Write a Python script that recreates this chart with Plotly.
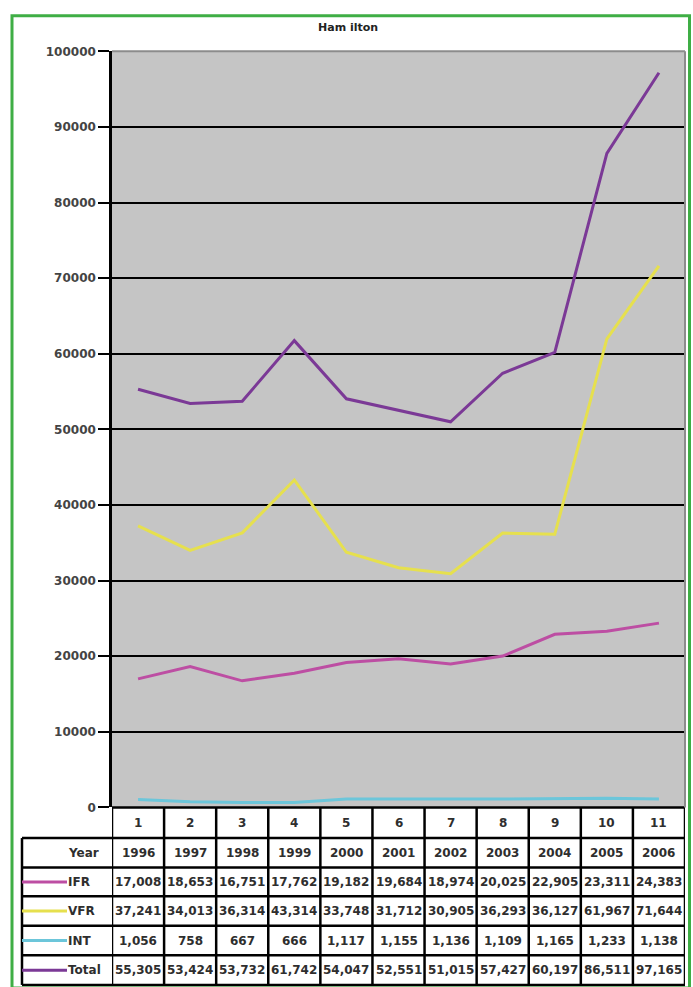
import plotly.graph_objects as go

W, H = 693, 987

categories = list(range(1, 12))
years = [1996, 1997, 1998, 1999, 2000, 2001, 2002, 2003, 2004, 2005, 2006]
ifr = [17008, 18653, 16751, 17762, 19182, 19684, 18974, 20025, 22905, 23311, 24383]
vfr = [37241, 34013, 36314, 43314, 33748, 31712, 30905, 36293, 36127, 61967, 71644]
int_ = [1056, 758, 667, 666, 1117, 1155, 1136, 1109, 1165, 1233, 1138]
total = [55305, 53424, 53732, 61742, 54047, 52551, 51015, 57427, 60197, 86511, 97165]
y_ticks = list(range(0, 100001, 10000))

series = [
    ("IFR", ifr, "#bd4ea3"),
    ("VFR", vfr, "#e6e04e"),
    ("INT", int_, "#6cc6da"),
    ("Total", total, "#7b3996"),
]

def px(x):
    return x / W

def py(y):
    return 1 - y / H

PLOT_L, PLOT_R, PLOT_T, PLOT_B = 112, 685, 45, 812
TABLE_L = 22
row_edges = [812, 843, 873, 902, 932, 962, 992]

fig = go.Figure()
for name, vals, col in series:
    fig.add_trace(go.Scatter(x=categories, y=vals, mode="lines", name=name,
                             line=dict(color=col, width=3), showlegend=False))

shapes = []
annos = []
LINE = dict(color="black", width=2.5)

for i, yy in enumerate(row_edges):
    x0 = PLOT_L if i == 0 else TABLE_L
    shapes.append(dict(type="line", xref="paper", yref="paper",
                       x0=px(x0), x1=px(PLOT_R), y0=py(yy), y1=py(yy), line=LINE))
for k in range(12):
    shapes.append(dict(type="line", xref="x", yref="paper",
                       x0=k + 0.5, x1=k + 0.5, y0=py(row_edges[0]), y1=py(row_edges[-1]),
                       line=LINE))
shapes.append(dict(type="line", xref="paper", yref="paper",
                   x0=px(TABLE_L), x1=px(TABLE_L), y0=py(row_edges[1]), y1=py(row_edges[-1]),
                   line=LINE))

TFONT = dict(family="DejaVu Sans", size=12, color="#2e2e2e")

def row_center(r):
    return py((row_edges[r] + row_edges[r + 1]) / 2)

for c in categories:
    annos.append(dict(x=c, y=row_center(0), xref="x", yref="paper", text=f"<b>{c}</b>",
                      showarrow=False, font=TFONT, xanchor="center", yanchor="middle"))

rows = [("Year", [str(y) for y in years], None)]
for name, vals, col in series:
    rows.append((name, [f"{v:,}" for v in vals], col))

for r, (label, texts, col) in enumerate(rows, start=1):
    annos.append(dict(x=px(66), y=row_center(r), xref="paper", yref="paper",
                      text=f"<b>{label}</b>", showarrow=False, font=TFONT,
                      xanchor="left", yanchor="middle"))
    if col:
        yc = row_center(r)
        shapes.append(dict(type="line", xref="paper", yref="paper",
                           x0=px(TABLE_L), x1=px(67), y0=yc, y1=yc,
                           line=dict(color=col, width=3)))
    for c, t in zip(categories, texts):
        annos.append(dict(x=c, y=row_center(r), xref="x", yref="paper", text=f"<b>{t}</b>",
                          showarrow=False, font=TFONT, xanchor="center", yanchor="middle"))

annos.append(dict(x=px(348), y=py(21), xref="paper", yref="paper", text="<b>Ham ilton</b>",
                  showarrow=False, font=dict(family="DejaVu Sans", size=11, color="#222"),
                  xanchor="center", yanchor="middle"))

shapes.append(dict(type="line", xref="paper", yref="paper", x0=px(PLOT_L), x1=px(PLOT_R),
                   y0=py(PLOT_T), y1=py(PLOT_T), line=dict(color="#8c8c8c", width=2)))
shapes.append(dict(type="line", xref="paper", yref="paper", x0=px(PLOT_R), x1=px(PLOT_R),
                   y0=py(PLOT_T), y1=py(PLOT_B), line=dict(color="#8c8c8c", width=2)))

shapes.append(dict(type="rect", xref="paper", yref="paper", x0=px(12), x1=px(689.5),
                   y0=py(995), y1=py(9), line=dict(color="#3fae45", width=3)))

fig.update_layout(
    width=W, height=H, margin=dict(l=0, r=0, t=0, b=0),
    paper_bgcolor="white", plot_bgcolor="#c5c5c5",
    shapes=shapes, annotations=annos, showlegend=False,
    xaxis=dict(domain=[px(PLOT_L), px(PLOT_R)], range=[0.5, 11.5], showticklabels=False,
               showgrid=False, zeroline=False, showline=False, ticks=""),
    yaxis=dict(domain=[py(PLOT_B), py(PLOT_T)], range=[0, 100000], tickvals=y_ticks,
               ticktext=[str(v) for v in y_ticks], showgrid=True, gridcolor="black",
               gridwidth=2, zeroline=False, showline=True, linecolor="black", linewidth=2.5,
               ticks="outside", ticklen=11, tickwidth=2, tickcolor="black",
               tickfont=dict(family="DejaVu Sans", size=12, color="#444", weight="bold")),
)

fig.write_html("out.html")
